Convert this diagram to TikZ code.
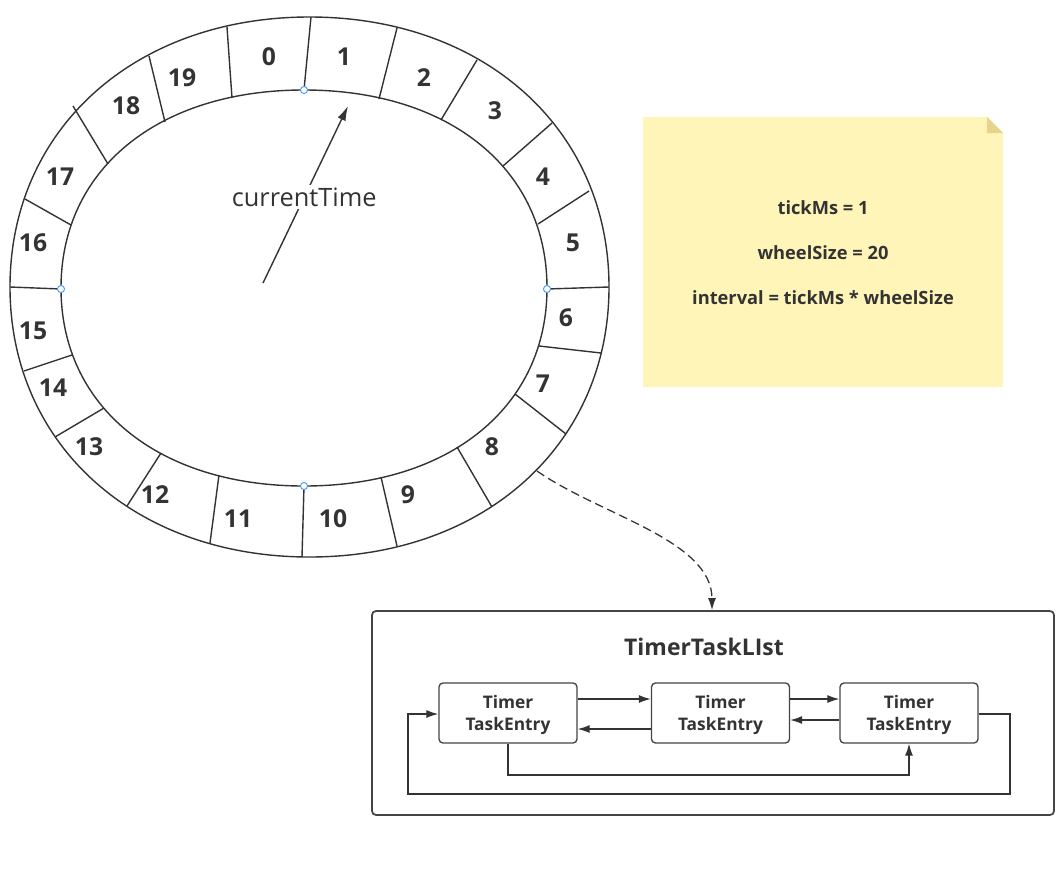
\documentclass[tikz,border=0pt]{standalone}
\usepackage{fontspec}
\setmainfont{Open Sans}
\usetikzlibrary{arrows.meta,calc}
\definecolor{ink}{HTML}{333333}
\definecolor{frame}{HTML}{444444}
\definecolor{notefill}{HTML}{FFF5B9}
\definecolor{foldfill}{HTML}{E6D38C}
\definecolor{handleblue}{HTML}{3D9BFF}
\tikzset{
  wheelline/.style={draw=ink, line width=1.05pt},
  num/.style={font=\bfseries\fontsize{18.5}{20}\selectfont, text=ink, inner sep=0pt},
  handle/.style={circle, draw=handleblue, fill=white, inner sep=0pt, minimum size=5.3pt, line width=0.7pt},
  entry/.style={draw=frame, rounded corners=3pt, minimum width=103.5pt, minimum height=45pt, align=center,
    font=\bfseries\fontsize{13}{16.5}\selectfont, text=ink, line width=1pt, inner sep=0pt, text depth=-1.2pt},
  link/.style={draw=ink, line width=0.95pt, -{Latex[length=9pt,width=6pt]}},
}
\begin{document}
\begin{tikzpicture}[x=0.75pt,y=-0.75pt]
\useasboundingbox (0,0) rectangle (1064,875);

% wheel (outer and inner rims)
\draw[wheelline] (609,287) .. controls (609,444.7) and (484.4,557) .. (309.5,557)
  .. controls (134.6,557) and (10,444.7) .. (10,287)
  .. controls (10,129.3) and (134.6,17) .. (309.5,17)
  .. controls (484.4,17) and (609,129.3) .. (609,287) -- cycle;
\draw[wheelline] (547,288) .. controls (547,406.8) and (449.8,486) .. (304,486)
  .. controls (158.2,486) and (61,406.8) .. (61,288)
  .. controls (61,169.2) and (158.2,90) .. (304,90)
  .. controls (449.8,90) and (547,169.2) .. (547,288) -- cycle;

% dividers
\draw[wheelline] (311,17) -- (304,90);
\draw[wheelline] (397,28) -- (379,99);
\draw[wheelline] (477,60) -- (441,120);
\draw[wheelline] (552,123) -- (503,166);
\draw[wheelline] (589,191) -- (538,224);
\draw[wheelline] (609,287) -- (547,289);
\draw[wheelline] (601,353) -- (539,346);
\draw[wheelline] (566,434) -- (515,394);
\draw[wheelline] (492,507) -- (457,447);
\draw[wheelline] (397,546) -- (381,477);
\draw[wheelline] (302,557) -- (304,486);
\draw[wheelline] (210,543) -- (219,475);
\draw[wheelline] (127,506) -- (161,453);
\draw[wheelline] (55,437) -- (104,408);
\draw[wheelline] (24,371) -- (72,355);
\draw[wheelline] (10,287) -- (61,289);
\draw[wheelline] (25,199) -- (71,225);
\draw[wheelline] (73,106) -- (108,164);
\draw[wheelline] (149,56) -- (165,122);
\draw[wheelline] (227,27) -- (232,98);

% slot numbers
\node[num] (n0) at (269,57) {0};
\node[num] (n1) at (344,57) {1};
\node[num] (n2) at (424,78) {2};
\node[num] (n3) at (495,111) {3};
\node[num] (n4) at (543,177) {4};
\node[num] (n5) at (573,243) {5};
\node[num] (n6) at (566,318) {6};
\node[num] (n7) at (543,384) {7};
\node[num] (n8) at (492,447) {8};
\node[num] (n9) at (408,495) {9};
\node[num] (n10) at (333,519) {10};
\node[num] (n11) at (238,519) {11};
\node[num] (n12) at (155,495) {12};
\node[num] (n13) at (89,447) {13};
\node[num] (n14) at (53,388) {14};
\node[num] (n15) at (33,331) {15};
\node[num] (n16) at (33,243) {16};
\node[num] (n17) at (60,177) {17};
\node[num] (n18) at (126,106) {18};
\node[num] (n19) at (182,78) {19};

% current time pointer
\coordinate (ctS) at (263,283);
\coordinate (ctE) at (348,106);
\draw[draw=ink, line width=1.05pt, -{Latex[length=11pt,width=6.5pt]}] (ctS) -- node[pos=0.485, fill=white, inner sep=2pt, text=ink, font=\fontsize{19}{21}\selectfont] (ct) {currentTime} (ctE);

% handles
\node[handle] (h1) at (304,90) {};
\node[handle] (h2) at (61,289) {};
\node[handle] (h3) at (547,289) {};
\node[handle] (h4) at (304,486) {};

% sticky note
\fill[notefill] (643,117) -- (987,117) -- (1003,133) -- (1003,387) -- (643,387) -- cycle;
\fill[foldfill] (987,117) -- (987,133) -- (1003,133) -- cycle;
\node[align=center, text=ink, font=\bfseries\fontsize{13.7}{33.75}\selectfont] (note) at (823,253)
  {tickMs = 1\\wheelSize = 20\\interval = tickMs * wheelSize};

% timer task list
\node[draw=frame, line width=1.3pt, rounded corners=3pt, minimum width=511.5pt, minimum height=153pt, inner sep=0pt] (list) at (713,713) {};
\node[text=ink, font=\bfseries\fontsize{17.2}{20}\selectfont] (title) at (704,647) {TimerTaskLIst};
\node[entry] (e1) at (508,713) {Timer\\TaskEntry};
\node[entry] (e2) at (720.5,713) {Timer\\TaskEntry};
\node[entry] (e3) at (909,713) {Timer\\TaskEntry};

\draw[link] (e1.east |- 0,699) -- (e2.west |- 0,699);
\draw[link] (e2.west |- 0,729) -- (e1.east |- 0,729);
\draw[link] (e2.east |- 0,699) -- (e3.west |- 0,699);
\draw[link] (e3.west |- 0,720) -- (e2.east |- 0,720);
\draw[link] (e1.south) -- (e1.south |- 0,775) -- (e3.south |- 0,775) -- (e3.south);
\draw[link] (e3.east |- 0,714) -- (1010,714) -- (1010,794) -- (408,794) -- (408,714) -- (e1.west |- 0,714);

% dashed pointer from slot 8
\coordinate (slot8) at (537,471);
\draw[draw=ink, line width=0.95pt, dash pattern=on 6.5pt off 3.5pt, -{Latex[length=9pt,width=6pt]}]
  (slot8) .. controls (600,515) and (712,540) .. (list.north -| 712,0);
\end{tikzpicture}
\end{document}
